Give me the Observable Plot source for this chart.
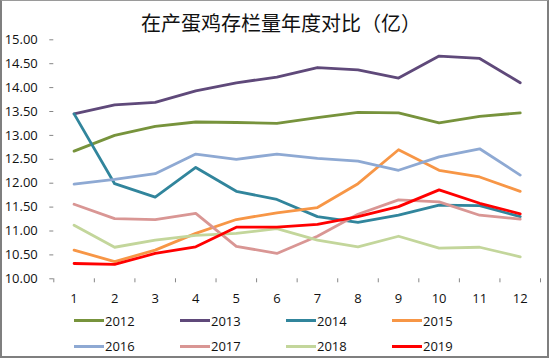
<!DOCTYPE html>
<html>
<head>
<meta charset="utf-8">
<script src="https://cdn.jsdelivr.net/npm/d3@7"></script>
<script src="https://cdn.jsdelivr.net/npm/@observablehq/plot@0.6"></script>
<style>
  html, body { margin: 0; padding: 0; background: #fff; }
  #wrap { position: relative; width: 550px; height: 360px; overflow: hidden; font-family: "Open Sans", "Liberation Sans", sans-serif; }
  #frame { position: absolute; left: 0; top: 0; width: 549px; height: 358px; box-sizing: border-box; border: 2px solid #7f7f7f; border-top: 1px solid #9a9a9a; pointer-events: none; }
  #title { padding-top: 13px; height: 20px; line-height: 20px; font-size: 20px; text-align: center; padding-left: 12px; font-family: "Noto Sans CJK SC", sans-serif; color: #111; }
  #legend { padding-left: 74px; }
  .row { display: flex; height: 25.5px; align-items: center; font-size: 13px; color: #111; }
  .item { width: 106px; display: flex; align-items: center; }
  .sw { width: 30px; height: 3px; margin-right: 1px; }
</style>
</head>
<body>
<div id="wrap">
  <div id="title">在产蛋鸡存栏量年度对比（亿）</div>
  <div id="chart"></div>
  <div id="legend"></div>
  <div id="frame"></div>
</div>
<script>
const months = [1, 2, 3, 4, 5, 6, 7, 8, 9, 10, 11, 12];
const years = ["2012", "2013", "2014", "2015", "2016", "2017", "2018", "2019"];
const colors = ["#77933C", "#5F497A", "#31859C", "#F79646", "#8EA9D3", "#D99694", "#C3D69B", "#FF0000"];
const yTicks = [10, 10.5, 11, 11.5, 12, 12.5, 13, 13.5, 14, 14.5, 15];

const s2012 = [12.67, 13.00, 13.19, 13.28, 13.27, 13.25, 13.37, 13.48, 13.47, 13.26, 13.40, 13.47];
const s2013 = [13.45, 13.64, 13.69, 13.93, 14.10, 14.22, 14.42, 14.37, 14.20, 14.66, 14.61, 14.10];
const s2014 = [13.45, 11.99, 11.71, 12.33, 11.83, 11.66, 11.30, 11.18, 11.33, 11.54, 11.53, 11.30];
const s2015 = [10.60, 10.36, 10.60, 10.95, 11.24, 11.38, 11.49, 11.99, 12.70, 12.27, 12.13, 11.83];
const s2016 = [11.98, 12.08, 12.20, 12.61, 12.50, 12.61, 12.52, 12.46, 12.27, 12.55, 12.72, 12.17];
const s2017 = [11.56, 11.26, 11.24, 11.37, 10.68, 10.53, 10.89, 11.35, 11.65, 11.61, 11.33, 11.25];
const s2018 = [11.12, 10.66, 10.81, 10.91, 10.95, 11.05, 10.81, 10.67, 10.89, 10.64, 10.66, 10.46];
const s2019 = [10.32, 10.30, 10.53, 10.67, 11.08, 11.08, 11.14, 11.30, 11.51, 11.86, 11.58, 11.36];

const series = [s2012, s2013, s2014, s2015, s2016, s2017, s2018, s2019];
const data = years.flatMap((yr, i) => months.map((m, j) => ({year: yr, month: m, value: series[i][j]})));
const bounds = [0, ...months].map(m => m + 0.5);

const chart = Plot.plot({
  width: 550,
  height: 275,
  marginLeft: 53.3,
  marginRight: 10,
  marginTop: 6.3,
  marginBottom: 29.7,
  x: {domain: [0.5, 12.5]},
  y: {domain: [10, 15]},
  color: {domain: years, range: colors},
  style: {fontFamily: "'Open Sans', 'Liberation Sans', sans-serif", fontSize: "13px", overflow: "visible", background: "transparent", color: "#111"},
  marks: [
    Plot.axisY({ticks: yTicks, tickFormat: d3.format(".2f"), tickSize: 4, tickPadding: 12, stroke: "#868686", line: true, label: null}),
    Plot.axisX({ticks: bounds, tickSize: 4, tickFormat: () => "", stroke: "#868686", line: true, label: null}),
    Plot.axisX({ticks: months, tickSize: 0, tickPadding: 15, tickFormat: d => String(d), label: null}),
    Plot.line(data, {x: "month", y: "value", z: "year", stroke: "year", strokeWidth: 2.8, strokeLinejoin: "round", strokeLinecap: "round"})
  ]
});
document.getElementById("chart").appendChild(chart);

const legend = document.getElementById("legend");
for (let r = 0; r < 2; r++) {
  const row = document.createElement("div");
  row.className = "row";
  for (let c = 0; c < 4; c++) {
    const i = r * 4 + c;
    const item = document.createElement("div");
    item.className = "item";
    const sw = document.createElement("span");
    sw.className = "sw";
    sw.style.background = colors[i];
    const t = document.createElement("span");
    t.textContent = years[i];
    item.appendChild(sw);
    item.appendChild(t);
    row.appendChild(item);
  }
  legend.appendChild(row);
}
</script>
</body>
</html>
